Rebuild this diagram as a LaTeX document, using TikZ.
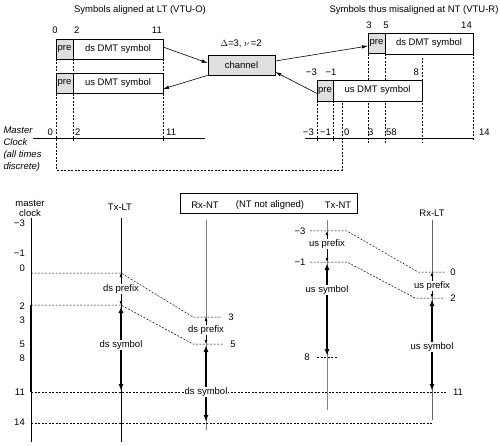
\documentclass[tikz,border=0pt]{standalone}
\usepackage{fontspec}
\setmainfont{Liberation Sans}
\usepackage{tikz}
\usetikzlibrary{arrows.meta}

\tikzset{
  symbox/.style={draw,fill=white,line width=0.7pt,minimum height=20pt,inner sep=1pt,outer sep=0pt,anchor=north west},
  prebox/.style={symbox,fill=gray!25,minimum width=17pt},
  grid/.style={dash pattern=on 2pt off 1.5pt,line width=0.5pt},
  sig/.style={-{Latex[length=6pt,width=3.5pt]},line width=0.6pt},
  prefarr/.style={{Latex[length=4pt,width=3pt]}-{Latex[length=4pt,width=3pt]},line width=0.6pt},
  symarr/.style={{Latex[length=7pt,width=5pt]}-{Latex[length=7pt,width=5pt]},line width=2pt},
  lbl/.style={fill=white,inner sep=1pt},
  num/.style={inner sep=1pt},
}

\begin{document}
\begin{tikzpicture}[x=1pt,y=-1pt,font=\fontsize{9.5}{11}\selectfont]

    \useasboundingbox (0,0) rectangle (500,446);

    % Titles
    \node (ltitle) at (140,10) {Symbols aligned at LT (VTU-O)};
    \node (ntitle) at (414,10) {Symbols thus misaligned at NT (VTU-R)};

    % Dashed guides (top)
    \draw[grid] (56,59) -- (56,170) -- (342,170) -- (342,101);
    \draw[grid] (73,59) -- (73,143);
    \draw[grid] (163,59) -- (163,143);
    \draw[grid] (317,101) -- (317,143);
    \draw[grid] (333,101) -- (333,143);
    \draw[grid] (368,54) -- (368,143);
    \draw[grid] (385,54) -- (385,143);
    \draw[grid] (422,58) -- (422,143);
    \draw[grid] (473,54) -- (473,141);

    % Symbols at LT
    \node[prebox] (ltdspre) at (56,39) {pre};
    \node[symbox,minimum width=90pt] (ltds) at (73,39) {ds DMT symbol};
    \node[prebox] (ltuspre) at (56,73) {pre};
    \node[symbox,minimum width=90pt] (ltus) at (73,73) {us DMT symbol};
    \node[num] (lt0) at (55,30) {0};
    \node[num,anchor=west] (lt2) at (73,30) {2};
    \node[num,anchor=east] (lt11) at (163,30) {11};

    % Channel
    \node[draw,line width=0.7pt,fill=gray!25,minimum width=67pt,minimum height=20pt] (chan) at (241.5,65) {channel};
    \node (chpar) at (241,44) {$\Delta$=3, $\nu$\,=2};

    % Symbols at NT
    \node[prebox] (ntdspre) at (368,33) {pre};
    \node[symbox,minimum width=88pt,minimum height=21pt] (ntds) at (385,33) {ds DMT symbol};
    \node[prebox,minimum width=16pt,minimum height=21pt] (ntuspre) at (317,80) {pre};
    \node[symbox,minimum width=89pt,minimum height=21pt] (ntus) at (333,80) {us DMT symbol};
    \node[num] (nt3) at (369,25) {3};
    \node[num] (nt5) at (386,25) {5};
    \node[num,anchor=east] (nt14) at (473,25) {14};
    \node[num,anchor=east] (ntm3) at (318,72) {−3};
    \node[num] (ntm1) at (331,72) {−1};
    \node[num,anchor=east] (nt8) at (420,72) {8};

    % Signal paths
    \draw[sig] ([yshift=2pt]ltds.east) -- ([yshift=2pt]chan.west);
    \draw[sig] (chan.south west) -- ([yshift=-6pt]ltus.east);
    \draw[sig] ([yshift=4pt]chan.east) -- ([yshift=-3pt]ntdspre.west);
    \draw[sig] ([yshift=-3pt]ntuspre.west) -- ([yshift=-7pt]chan.east);

    % Master clock (top)
    \draw[line width=0.7pt] (33,138) -- (205,138);
    \draw[line width=0.7pt] (305,138) -- (474,138);
    \node[align=left,anchor=west,font=\fontsize{9.5}{12}\selectfont\itshape] (mclock) at (0,149) {Master\\Clock\\(all times\\discrete)};
    \node[num,anchor=east] (mc0) at (54,132) {0};
    \node[num,anchor=west] (mc2) at (74,132) {2};
    \node[num,anchor=west] (mc11) at (165,132) {11};
    \node[num,anchor=east] (mcm3) at (315,132) {−3};
    \node[num,anchor=east] (mcm1) at (332,132) {−1};
    \node[num,anchor=west] (mcz) at (343,132) {0};
    \node[num,anchor=west] (mc3) at (367,132) {3};
    \node[num,anchor=west] (mc58) at (385,132) {58};
    \node[num,anchor=west] (mc14) at (478,132) {14};

    % Heading (bottom)
    \draw[line width=0.7pt] (180,193) rectangle (357,213);
    \node (rxnt) at (205,205) {Rx-NT};
    \node (notal) at (270,205) {(NT not aligned)};
    \node (txnt) at (338,205) {Tx-NT};
    \node (txlt) at (120,207) {Tx-LT};
    \node (rxlt) at (432,213) {Rx-LT};
    \node[align=center,font=\fontsize{9.5}{10}\selectfont] (mclk) at (30,208) {master\\clock};

    % Time axes
    \draw[line width=0.8pt] (31,218) -- (31,442);
    \draw[line width=0.7pt] (121,218) -- (121,442);
    \draw[line width=0.7pt,gray] (206,220) -- (206,430);
    \draw[line width=0.7pt,gray] (327,220) -- (327,410);
    \draw[line width=0.7pt,gray!80!black] (432,220) -- (432,420);
    \draw[line width=2.5pt] (31,305) -- (31,392);
    \foreach \t/\y [count=\i] in {−3/223,−1/253,0/268,2/306,3/320,5/344,8/358,11/392,14/422}
        \node[num,anchor=east] (tick\i) at (26,\y) {\t};

    % Downstream timing
    \draw[grid] (31,273) -- (121,273) -- (193,317) -- (222,317);
    \draw[grid] (31,305) -- (121,305) -- (193,344) -- (223,344);
    \draw[grid] (31,392) -- (447,392);
    \draw[grid] (31,423) -- (432,423);
    \node[num] (rx3) at (231,317) {3};
    \node[num] (rx5) at (233,344) {5};
    \draw[prefarr] (121,273) -- (121,305);
    \node[lbl] (dspre1) at (121,289) {ds prefix};
    \draw[symarr] (121,306) -- (121,391);
    \node[lbl] (dssym1) at (121,345) {ds symbol};
    \draw[prefarr] (206,317) -- (206,344);
    \node[lbl] (dspre2) at (206,330) {ds prefix};
    \draw[symarr] (206,345) -- (206,422);
    \node[lbl] (dssym2) at (206,392) {ds symbol};

    % Upstream timing
    \draw[grid] (310,231) -- (347,231) -- (418,272) -- (445,272);
    \draw[grid] (310,262) -- (347,262) -- (415,298) -- (445,298);
    \draw[grid] (317,357) -- (337,357);
    \node[num] (txm3) at (300,231) {−3};
    \node[num] (txm1) at (300,262) {−1};
    \node[num] (tx8) at (307,357) {8};
    \node[num] (rx0) at (453,272) {0};
    \node[num] (rx2) at (453,298) {2};
    \node[num] (rx11) at (458,392) {11};
    \draw[prefarr] (327,231) -- (327,262);
    \node[lbl] (uspre1) at (327,244) {us prefix};
    \draw[symarr] (327,263) -- (327,356);
    \node[lbl] (ussym1) at (327,290) {us symbol};
    \draw[prefarr] (432,272) -- (432,298);
    \node[lbl] (uspre2) at (432,286) {us prefix};
    \draw[symarr] (432,299) -- (432,391);
    \node[lbl] (ussym2) at (432,347) {us symbol};

\end{tikzpicture}
\end{document}
